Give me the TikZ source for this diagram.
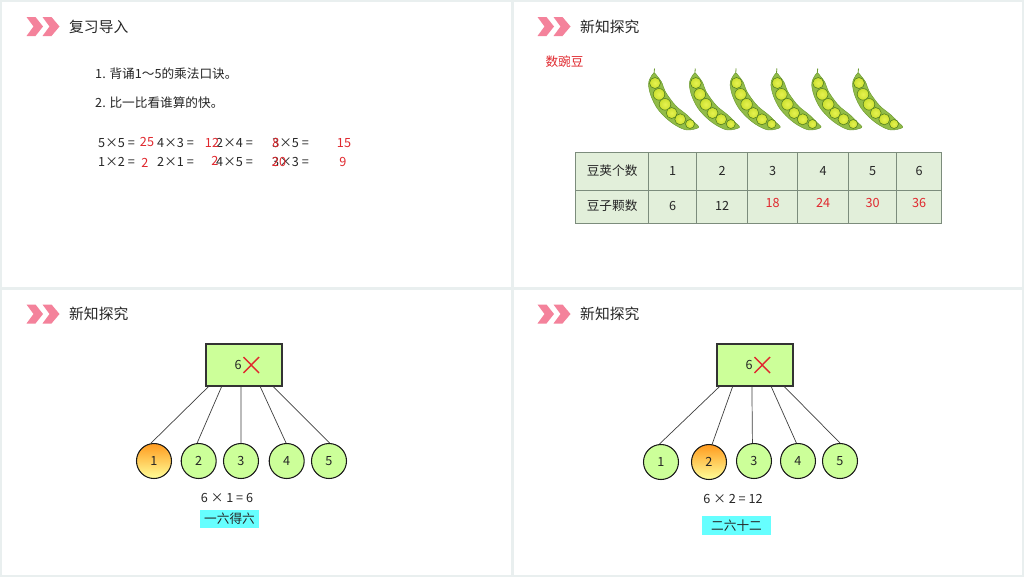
\documentclass[tikz,border=0pt]{standalone}
\usepackage{xcolor}
\usepackage{fontspec}
\setmainfont{Noto Sans CJK SC}
\usetikzlibrary{matrix,calc}

\definecolor{gutter}{HTML}{E9EFEF}
\definecolor{chevron}{HTML}{F4829B}
\definecolor{answer}{HTML}{E0282E}
\definecolor{inkgray}{HTML}{262626}
\definecolor{cellgreen}{HTML}{E2EFDA}
\definecolor{cellline}{HTML}{7C8C7C}
\definecolor{leafgreen}{HTML}{CCFF99}
\definecolor{podgreen}{HTML}{92BC48}
\definecolor{podedge}{HTML}{6B9A30}
\definecolor{peaedge}{HTML}{55801F}
\definecolor{peagreen}{HTML}{CCE030}
\definecolor{peaglow}{HTML}{E6F250}
\definecolor{hilite}{HTML}{66FFFF}
\definecolor{hottop}{HTML}{FF9A1E}
\definecolor{hotend}{HTML}{FFFF99}

\def\px{.03cm}
\newcommand{\bodyfont}{\fontsize{10.8}{13}\selectfont}
\newcommand{\titlefont}{\fontsize{12.6}{15}\selectfont}
\newcommand{\ans}[1]{\textcolor{answer}{\raisebox{3pt}[0pt][0pt]{#1}}}

\tikzset{
  panel/.style={fill=white,draw=none},
  heading/.style={anchor=west,inner sep=0pt,text=inkgray,font=\titlefont},
  txt/.style={anchor=west,inner sep=0pt,text=inkgray,font=\bodyfont},
  sumtxt/.style={txt,text height=8pt,text depth=2pt},
  redtxt/.style={inner sep=0pt,text=answer,font=\bodyfont,text height=8pt,text depth=2pt},
  rootbox/.style={draw=black!80,line width=.95pt,fill=leafgreen,
    minimum width=76*\px,minimum height=42*\px,inner sep=0pt},
  leaf/.style={circle,draw=black!90,line width=.9pt,fill=leafgreen,
    minimum size=35*\px,inner sep=0pt,text=inkgray,font=\bodyfont},
  hot/.style={top color=hottop,bottom color=hotend},
  link/.style={draw=black!75,line width=.6pt},
  mark6/.style={draw=answer,line width=1.2pt},
  memo/.style={fill=hilite,inner sep=0pt,text=inkgray,font=\bodyfont},
  pod/.pic={
    \draw[podedge,line width=.7pt] (14.5,8.5) -- (14,14);
    \filldraw[fill=podgreen,draw=podedge,line width=.4pt] plot [smooth cycle,tension=.55] coordinates {
      (14,13) (10,18.5) (8.5,25) (11,36) (17,48) (26,58) (36,65.5) (47,70) (58.5,67.5)
      (54.5,62.5) (47,55) (37,47) (31,40) (25,31) (21.5,22) (17,16)};
    \foreach \cx/\cy/\r in {15/23/5.5,19/34.3/5.8,25/44.3/5.8,31.7/53/5.5,40.3/59.3/5.5,50/64/4.5}
      \draw[draw=peaedge,line width=.5pt,inner color=peaglow,outer color=peagreen] (\cx,\cy) circle [radius=\r];
  },
  arrowpair/.pic={
    \fill[chevron] (0,0) -- (9,0) -- (16.5,9.5) -- (9,19) -- (0,19) -- (7,9.5) -- cycle;
    \fill[chevron] (16,0) -- (25,0) -- (33,9.5) -- (25,19) -- (16,19) -- (23,9.5) -- cycle;
  },
}

\begin{document}
\begin{tikzpicture}[x=\px,y=-\px]
  \fill[gutter] (0,0) rectangle (1024,577);
  \useasboundingbox (0,0) rectangle (1024,577);
  \fill[panel] (2,2) rectangle (511,287);
  \fill[panel] (513.5,2) rectangle (1022,287);
  \fill[panel] (2,289.5) rectangle (511,574.5);
  \fill[panel] (513.5,289.5) rectangle (1022,574.5);

  % headings
  \foreach \i/\hx/\hy/\htext in {1/26.5/17/复习导入,2/537.5/17/新知探究,3/26.5/304.5/新知探究,4/537.5/304.5/新知探究}{
    \pic at (\hx,\hy) {arrowpair};
    \node[heading] (head\i) at (\hx+42.5,\hy+9.5) {\htext};
  }

  % review
  \node[txt] (task1) at (95,74) {1. 背诵1～5的乘法口诀。};
  \node[txt] (task2) at (95,102.5) {2. 比一比看谁算的快。};
  \foreach \i/\ex/\ey/\etext in {1/98/144/5×5 =,2/157/144/4×3 =,3/216/144/2×4 =,4/272/144/3×5 =,
      5/98/163/1×2 =,6/157/163/2×1 =,7/216/163/4×5 =,8/272/163/3×3 =}
    \node[sumtxt] (eq\i) at (\ex,\ey) {\etext};
  \foreach \i/\ex/\ey/\etext in {1/147/142.5/25,2/212/144/12,3/276/144/8,4/344/143.5/15,
      5/145/163.5/2,6/215/162/2,7/279/162.5/20,8/343/163/9}
    \node[redtxt] (res\i) at (\ex,\ey) {\etext};

  % peas
  \node[redtxt] (count) at (564.5,62.5) {数豌豆};
  \foreach \i in {0,...,5}
    \pic at (640+40.8*\i,60) {pod};
  \matrix (tab) [matrix of nodes,anchor=north west,inner sep=0pt,
    nodes={draw=cellline,line width=.7pt,fill=cellgreen,anchor=center,inner sep=0pt,
      text=inkgray,font=\fontsize{10.8}{13}\selectfont,minimum height=38*\px,
      text height=8pt,text depth=2pt},
    row sep=-.7pt,column sep=-.7pt,
    row 2/.style={nodes={minimum height=33*\px}},
    column 1/.style={nodes={minimum width=73*\px}},
    column 2/.style={nodes={minimum width=48*\px}},
    column 3/.style={nodes={minimum width=51*\px}},
    column 4/.style={nodes={minimum width=50*\px}},
    column 5/.style={nodes={minimum width=51*\px}},
    column 6/.style={nodes={minimum width=48*\px}},
    column 7/.style={nodes={minimum width=45*\px}},]
    at (575,152) {
      豆荚个数 & 1 & 2 & 3 & 4 & 5 & 6 \\
      豆子颗数 & 6 & 12 & \ans{18} & \ans{24} & \ans{30} & \ans{36} \\
    };

  % left tree
  \node[rootbox] (rootA) at (244,365) {};
  \node[txt] (sixA) at (234.5,365) {6};
  \coordinate (xaa) at (243.5,357);
  \coordinate (xab) at (259,373);
  \coordinate (xac) at (259,357);
  \coordinate (xad) at (243.5,373);
  \draw[mark6] (xaa) -- (xab);
  \draw[mark6] (xac) -- (xad);
  \node[leaf,hot] (a1) at (154,461) {1};
  \node[leaf] (a2) at (198.7,461) {2};
  \node[leaf] (a3) at (241,461) {3};
  \node[leaf] (a4) at (286.7,461) {4};
  \node[leaf] (a5) at (329,461) {5};
  \foreach \i/\f/\a in {1/.04/100,2/.21/95,3/.46/90,4/.71/92,5/.88/88}
    \draw[link] ($(rootA.south west)!\f!(rootA.south east)$) -- (a\i.\a);
  \node[txt,anchor=center] (calcA) at (227,498) {6 × 1 = 6};
  \node[memo,minimum width=59*\px,minimum height=18*\px] (memoA) at (229.5,519) {一六得六};

  % right tree
  \node[rootbox] (rootB) at (755,365) {};
  \node[txt] (sixB) at (745.5,365) {6};
  \coordinate (xba) at (754.5,357);
  \coordinate (xbb) at (770,373);
  \coordinate (xbc) at (770,357);
  \coordinate (xbd) at (754.5,373);
  \draw[mark6] (xba) -- (xbb);
  \draw[mark6] (xbc) -- (xbd);
  \node[leaf] (b1) at (661,462) {1};
  \node[leaf,hot] (b2) at (709,462) {2};
  \node[leaf] (b3) at (754,461) {3};
  \node[leaf] (b4) at (798,461) {4};
  \node[leaf] (b5) at (840,461) {5};
  \foreach \i/\f/\a in {1/.04/95,2/.21/80,3/.46/95,4/.71/95,5/.88/90}
    \draw[link] ($(rootB.south west)!\f!(rootB.south east)$) -- (b\i.\a);
  \node[txt,anchor=center] (calcB) at (733,499) {6 × 2 = 12};
  \node[memo,minimum width=69*\px,minimum height=19*\px] (memoB) at (736.5,525.5) {二六十二\hspace{6pt}};
\end{tikzpicture}
\end{document}
